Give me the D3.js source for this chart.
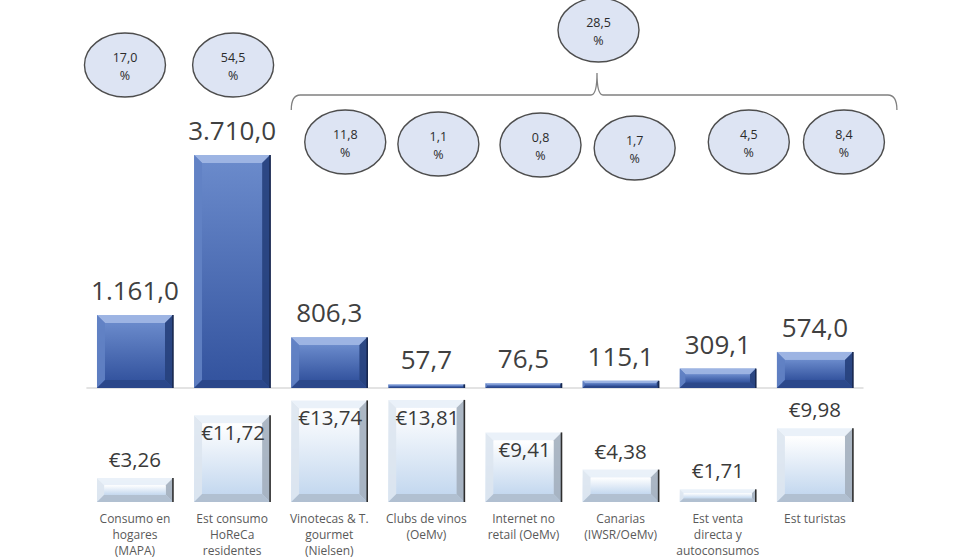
<!DOCTYPE html>
<meta charset="utf-8">
<html>
<head>
<style>
  body { margin: 0; background: #fff; }
  svg text { font-family: "Open Sans", sans-serif; }
</style>
</head>
<body>
<div id="chart"></div>
<script src="https://cdn.jsdelivr.net/npm/d3@7"></script>
<script>

// data
var categories = ["Consumo en hogares (MAPA)", "Est consumo HoReCa residentes",
  "Vinotecas & T. gourmet (Nielsen)", "Clubs de vinos (OeMv)", "Internet no retail (OeMv)",
  "Canarias (IWSR/OeMv)", "Est venta directa y autoconsumos", "Est turistas"];
var labelLines = [["Consumo en", "hogares", "(MAPA)"], ["Est consumo", "HoReCa", "residentes"],
  ["Vinotecas & T.", "gourmet", "(Nielsen)"], ["Clubs de vinos", "(OeMv)"],
  ["Internet no", "retail (OeMv)"], ["Canarias", "(IWSR/OeMv)"],
  ["Est venta", "directa y", "autoconsumos"], ["Est turistas"]];
var volumes = [1161.0, 3710.0, 806.3, 57.7, 76.5, 115.1, 309.1, 574.0];   // upper bars
var prices = [3.26, 11.72, 13.74, 13.81, 9.41, 4.38, 1.71, 9.98];         // lower bars (€)
var shares = [17.0, 54.5, 11.8, 1.1, 0.8, 1.7, 4.5, 8.4];                 // % bubbles
var groupShare = 28.5;                                                    // bracket bubble
var groupFrom = 2, groupTo = 7;

// layout nudges (the bubbles were placed by hand in the original)
var priceInside = [false, true, true, true, true, false, false, false];
var shareDx = [-10, 1, 16, 12, 17, 14, 31, 29];
var shareY = [65, 65, 142, 144, 145, 148, 142, 142];

var W = 980, H = 560;
var loc = d3.formatLocale({decimal: ",", thousands: ".", grouping: [3], currency: ["€", ""]});
var fmt1 = loc.format(",.1f"), fmt2 = loc.format(".2f");

var svg = d3.select("#chart").append("svg")
  .attr("width", W).attr("height", H);

var x = d3.scaleBand()
  .domain(categories)
  .range([86.4, 863.5])
  .paddingInner(0.218)
  .paddingOuter(0.109);

var yTop = d3.scaleLinear().domain([0, 3710]).range([388, 155]);
var yBot = d3.scaleLinear().domain([0, 14]).range([502, 398.5]);

var defs = svg.append("defs");
var gBlue = defs.append("linearGradient").attr("id", "blueFace")
  .attr("x1", 0).attr("y1", 0).attr("x2", 0).attr("y2", 1);
gBlue.append("stop").attr("offset", 0).attr("stop-color", "#6a8acb");
gBlue.append("stop").attr("offset", 1).attr("stop-color", "#34549f");
var gLight = defs.append("linearGradient").attr("id", "lightFace")
  .attr("x1", 0).attr("y1", 0).attr("x2", 0).attr("y2", 1);
gLight.append("stop").attr("offset", 0).attr("stop-color", "#ffffff");
gLight.append("stop").attr("offset", 1).attr("stop-color", "#c4d8ef");

var bluePal = {face: "url(#blueFace)", top: "#a3b9e6", left: "#6282c4", right: "#26407c",
  bottom: "#2a4687", edge: "#18284f"};
var lightPal = {face: "url(#lightFace)", top: "#e8eff8", left: "#dde6f0", right: "#a3afbe",
  bottom: "#aebccd", edge: "#2e2e2e"};

// draws a bevelled box like the Excel shape style
function bevelBar(g, bx, by, bw, bh, pal) {
  var b = Math.max(0.6, Math.min(8, bh * 0.3, bw * 0.3));
  var x0 = bx, x1 = bx + bw, y0 = by, y1 = by + bh;
  var pts = {
    top: [[x0, y0], [x1, y0], [x1 - b, y0 + b], [x0 + b, y0 + b]],
    left: [[x0, y0], [x0 + b, y0 + b], [x0 + b, y1 - b], [x0, y1]],
    right: [[x1, y0], [x1, y1], [x1 - b, y1 - b], [x1 - b, y0 + b]],
    bottom: [[x0, y1], [x0 + b, y1 - b], [x1 - b, y1 - b], [x1, y1]]
  };
  g.append("rect").attr("x", x0).attr("y", y0).attr("width", bw).attr("height", bh)
    .attr("fill", pal.face);
  ["top", "left", "right", "bottom"].forEach(function(k) {
    g.append("polygon").attr("points", pts[k].map(function(p) { return p.join(","); }).join(" "))
      .attr("fill", pal[k]).attr("opacity", 0.9);
  });
  g.append("rect").attr("x", x0 + b).attr("y", y0 + b)
    .attr("width", Math.max(0, bw - 2 * b)).attr("height", Math.max(0, bh - 2 * b))
    .attr("fill", pal.face);
  g.append("line").attr("x1", x1).attr("x2", x1).attr("y1", y0).attr("y2", y1)
    .attr("stroke", pal.edge).attr("stroke-width", 1.6);
}

// baseline of the volume bars
svg.append("line")
  .attr("x1", x.range()[0]).attr("x2", x.range()[1])
  .attr("y1", yTop(0)).attr("y2", yTop(0))
  .attr("stroke", "#c8c8c8").attr("stroke-width", 1.2);

// upper bars: volume
var volG = svg.append("g");
categories.forEach(function(c, i) {
  var g = volG.append("g");
  bevelBar(g, x(c), yTop(volumes[i]), x.bandwidth(), yTop(0) - yTop(volumes[i]), bluePal);
  volG.append("text")
    .attr("x", x(c) + x.bandwidth() / 2)
    .attr("y", yTop(volumes[i]) - 15)
    .attr("text-anchor", "middle")
    .style("font-size", "26px").style("fill", "#404040")
    .text(fmt1(volumes[i]));
});

// lower bars: price per litre
var priceG = svg.append("g");
categories.forEach(function(c, i) {
  var g = priceG.append("g");
  bevelBar(g, x(c), yBot(prices[i]), x.bandwidth(), yBot(0) - yBot(prices[i]), lightPal);
  priceG.append("text")
    .attr("x", x(c) + x.bandwidth() / 2 + (priceInside[i] ? 1 : 0))
    .attr("y", priceInside[i] ? yBot(prices[i]) + 25 : yBot(prices[i]) - 11)
    .attr("text-anchor", "middle")
    .style("font-size", "20.5px").style("fill", "#3a3a3a")
    .text("€" + fmt2(prices[i]));
});

// category labels
var catG = svg.append("g");
categories.forEach(function(c, i) {
  var t = catG.append("text")
    .attr("x", x(c) + x.bandwidth() / 2)
    .attr("y", 523)
    .attr("text-anchor", "middle")
    .style("font-size", "12px").style("fill", "#5a5a5a");
  labelLines[i].forEach(function(l, j) {
    t.append("tspan").attr("x", x(c) + x.bandwidth() / 2)
      .attr("dy", j === 0 ? 0 : 16).text(l);
  });
});

// share bubbles
function bubble(cx, cy, v) {
  var g = svg.append("g");
  g.append("ellipse").attr("cx", cx).attr("cy", cy).attr("rx", 40.5).attr("ry", 32)
    .attr("fill", "#dde4f3").attr("stroke", "#4d4d4d").attr("stroke-width", 1.4);
  g.append("text").attr("x", cx).attr("y", cy - 3).attr("text-anchor", "middle")
    .style("font-size", "12.5px").style("fill", "#2b2b2b").text(fmt1(v));
  g.append("text").attr("x", cx).attr("y", cy + 15).attr("text-anchor", "middle")
    .style("font-size", "12.5px").style("fill", "#2b2b2b").text("%");
}
categories.forEach(function(c, i) {
  bubble(x(c) + x.bandwidth() / 2 + shareDx[i], shareY[i], shares[i]);
});

// bracket over the grouped channels
var bl = x(categories[groupFrom]), br = x(categories[groupTo]) + x.bandwidth() + 44;
var bm = 597, by = 95;
svg.append("path")
  .attr("d", "M" + bl + "," + (by + 15) + " Q" + bl + "," + by + " " + (bl + 9) + "," + by +
    " H" + (bm - 6) + " Q" + bm + "," + by + " " + bm + "," + (by - 22) +
    " Q" + bm + "," + by + " " + (bm + 6) + "," + by +
    " H" + (br - 9) + " Q" + br + "," + by + " " + br + "," + (by + 15))
  .attr("fill", "none").attr("stroke", "#808080").attr("stroke-width", 1.3);
bubble(bm + 1.5, 30, groupShare);

</script>
</body>
</html>
